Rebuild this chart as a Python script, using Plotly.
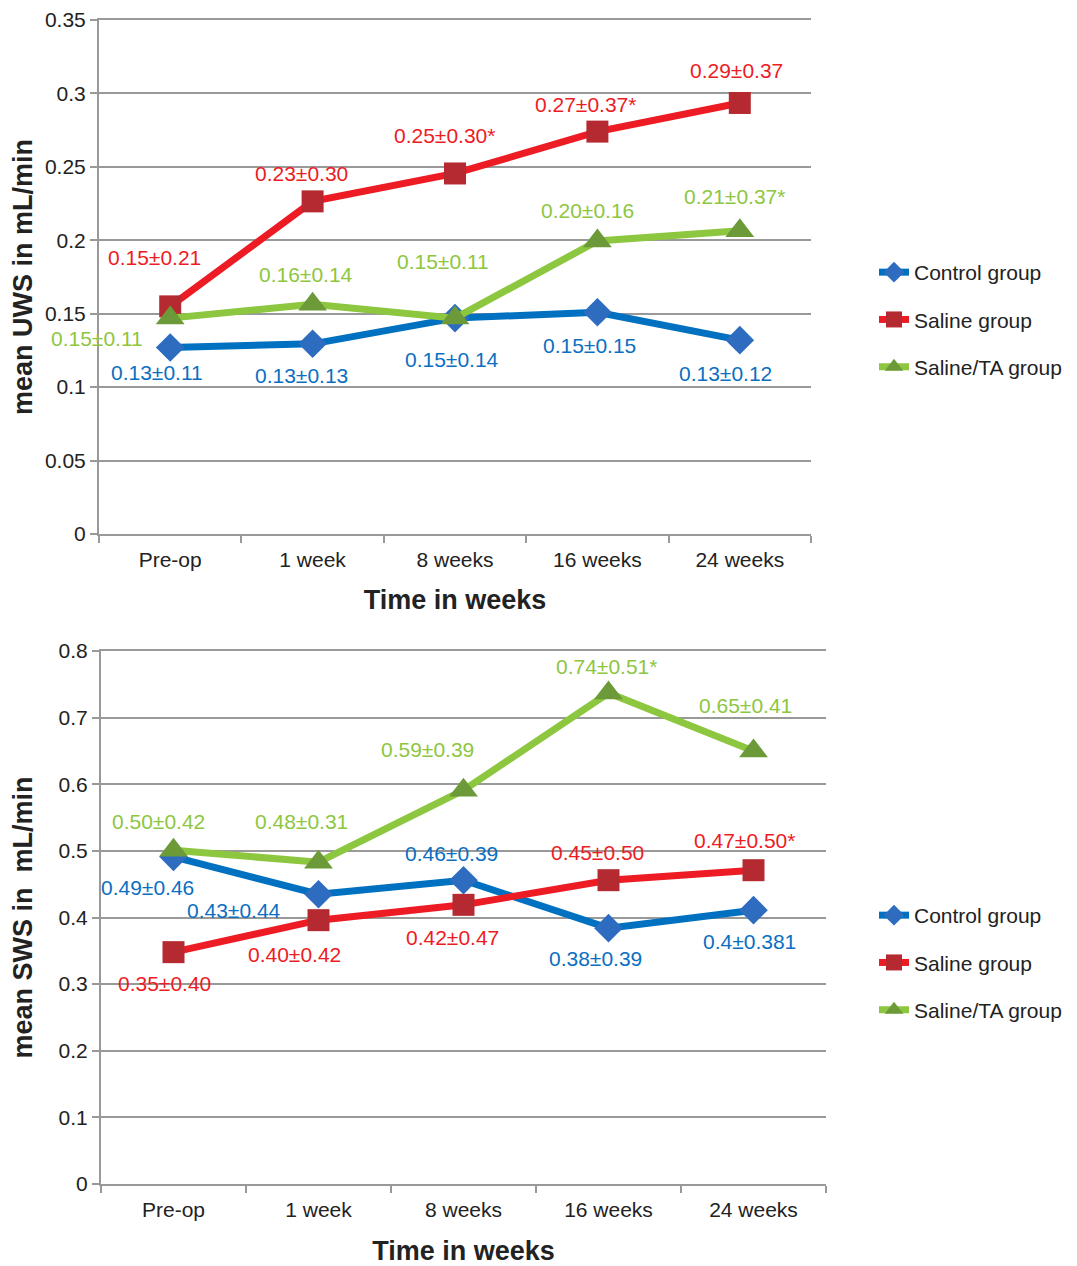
import plotly.graph_objects as go

categories = ["Pre-op", "1 week", "8 weeks", "16 weeks", "24 weeks"]
series_names = ["Control group", "Saline group", "Saline/TA group"]

# Top chart: mean UWS (mL/min)
uws_control = [0.127, 0.1295, 0.147, 0.151, 0.132]
uws_saline = [0.155, 0.2265, 0.2455, 0.274, 0.2935]
uws_ta = [0.147, 0.1565, 0.147, 0.1995, 0.2065]
uws_control_lbl = ["0.13±0.11", "0.13±0.13", "0.15±0.14", "0.15±0.15", "0.13±0.12"]
uws_saline_lbl = ["0.15±0.21", "0.23±0.30", "0.25±0.30*", "0.27±0.37*", "0.29±0.37"]
uws_ta_lbl = ["0.15±0.11", "0.16±0.14", "0.15±0.11", "0.20±0.16", "0.21±0.37*"]
uws_ticks = [0, 0.05, 0.1, 0.15, 0.2, 0.25, 0.3, 0.35]
uws_ticktext = ["0", "0.05", "0.1", "0.15", "0.2", "0.25", "0.3", "0.35"]

# Bottom chart: mean SWS (mL/min)
sws_control = [0.491, 0.435, 0.456, 0.384, 0.411]
sws_saline = [0.348, 0.396, 0.419, 0.456, 0.471]
sws_ta = [0.501, 0.483, 0.591, 0.737, 0.65]
sws_control_lbl = ["0.49±0.46", "0.43±0.44", "0.46±0.39", "0.38±0.39", "0.4±0.381"]
sws_saline_lbl = ["0.35±0.40", "0.40±0.42", "0.42±0.47", "0.45±0.50", "0.47±0.50*"]
sws_ta_lbl = ["0.50±0.42", "0.48±0.31", "0.59±0.39", "0.74±0.51*", "0.65±0.41"]
sws_ticks = [0, 0.1, 0.2, 0.3, 0.4, 0.5, 0.6, 0.7, 0.8]
sws_ticktext = ["0", "0.1", "0.2", "0.3", "0.4", "0.5", "0.6", "0.7", "0.8"]

# ---- styles ----
FONT = "Liberation Sans, Arial, Helvetica, sans-serif"
line_colors = ["#0070c0", "#ed1c24", "#8dc63f"]
marker_colors = ["#2e6cc0", "#b52a30", "#6c9a38"]
marker_symbols = ["diamond", "square", "triangle-up"]
marker_sizes = [22, 22, 25]
label_colors = ["#0a6fc2", "#ed1c24", "#8dc63f"]

# label offsets in px (dx, dy with dy positive = down)
uws_offsets = [
    [(-13, 25), (-11, 32), (-3, 41), (-8, 33), (-14, 33)],
    [(-16, -49), (-11, -28), (-11, -38), (-12, -27), (-3, -32)],
    [(-73, 20), (-7, -30), (-12, -57), (-10, -31), (-5, -34)],
]
sws_offsets = [
    [(-26, 31), (-85, 16), (-12, -27), (-13, 30), (-4, 31)],
    [(-9, 31), (-24, 34), (-11, 33), (-11, -28), (-9, -30)],
    [(-15, -29), (-17, -41), (-36, -41), (-2, -26), (-8, -45)],
]

W, H = 1077, 1266
PAGE_DX, PAGE_DY = 7, 8  # page body offset
fig = go.Figure()

panels = [
    dict(xa="x", ya="y", legend="legend", vals=[uws_control, uws_saline, uws_ta],
         lbls=[uws_control_lbl, uws_saline_lbl, uws_ta_lbl], offs=uws_offsets, grp="a"),
    dict(xa="x2", ya="y2", legend="legend2", vals=[sws_control, sws_saline, sws_ta],
         lbls=[sws_control_lbl, sws_saline_lbl, sws_ta_lbl], offs=sws_offsets, grp="b"),
]

annotations = []
for p in panels:
    for i, name in enumerate(series_names):
        fig.add_trace(go.Scatter(
            x=categories, y=p["vals"][i], name=name, mode="lines+markers",
            xaxis=p["xa"], yaxis=p["ya"], legend=p["legend"],
            legendgroup=p["grp"] + str(i),
            line=dict(color=line_colors[i], width=7),
            marker=dict(symbol=marker_symbols[i], size=marker_sizes[i],
                        color=marker_colors[i], line=dict(width=0)),
            hoverinfo="skip",
        ))
        for j, cat in enumerate(categories):
            dx, dy = p["offs"][i][j]
            annotations.append(dict(
                x=cat, y=p["vals"][i][j], xref=p["xa"], yref=p["ya"],
                text=p["lbls"][i][j], showarrow=False,
                xshift=dx, yshift=-dy,
                font=dict(family=FONT, size=21, color=label_colors[i]),
            ))

def px_x(v):
    return (v - PAGE_DX) / W

def px_y(v):
    return 1 - (v - PAGE_DY) / H

axis_common = dict(
    showline=True, linecolor="#999999", linewidth=2,
    ticks="outside", tickcolor="#999999", tickwidth=2, ticklen=7,
    tickfont=dict(family=FONT, size=21, color="#222222"),
    zeroline=False, automargin=False, ticklabeloverflow="allow",
)
title_font = dict(family=FONT, size=27, color="#222222")

fig.update_layout(
    width=W, height=H,
    margin=dict(l=0, r=0, t=0, b=0, autoexpand=False),
    paper_bgcolor="white", plot_bgcolor="white",
    font=dict(family=FONT, color="#222222"),
    xaxis=dict(domain=[px_x(98), px_x(810)], anchor="y", type="category",
               range=[-0.5, 4.5], tickson="boundaries", showgrid=False,
               ticklabelstandoff=6, mirror=True,
               title=dict(text="<b>Time in weeks</b>", font=title_font, standoff=20),
               **axis_common),
    yaxis=dict(domain=[px_y(534), px_y(20)], anchor="x", range=[0, 0.35],
               tickvals=uws_ticks, ticktext=uws_ticktext,
               showgrid=True, gridcolor="#999999", gridwidth=2,
               title=dict(text="<b>mean UWS in mL/min</b>", font=title_font, standoff=24),
               **axis_common),
    xaxis2=dict(domain=[px_x(100), px_x(825)], anchor="y2", type="category",
                range=[-0.5, 4.5], tickson="boundaries", showgrid=False,
                ticklabelstandoff=6, mirror=True,
                title=dict(text="<b>Time in weeks</b>", font=title_font, standoff=21),
                **axis_common),
    yaxis2=dict(domain=[px_y(1184), px_y(651)], anchor="x2", range=[0, 0.8],
                tickvals=sws_ticks, ticktext=sws_ticktext,
                showgrid=True, gridcolor="#999999", gridwidth=2,
                title=dict(text="<b>mean SWS in  mL/min</b>", font=title_font, standoff=24),
                **axis_common),
    legend=dict(x=px_x(873), y=px_y(252), xanchor="left", yanchor="top",
                font=dict(family=FONT, size=21, color="#222222"),
                traceorder="grouped", tracegroupgap=17, bgcolor="rgba(0,0,0,0)"),
    legend2=dict(x=px_x(873), y=px_y(895), xanchor="left", yanchor="top",
                 font=dict(family=FONT, size=21, color="#222222"),
                 traceorder="grouped", tracegroupgap=17, bgcolor="rgba(0,0,0,0)"),
    annotations=annotations,
    showlegend=True,
)

fig.write_html("out.html")
